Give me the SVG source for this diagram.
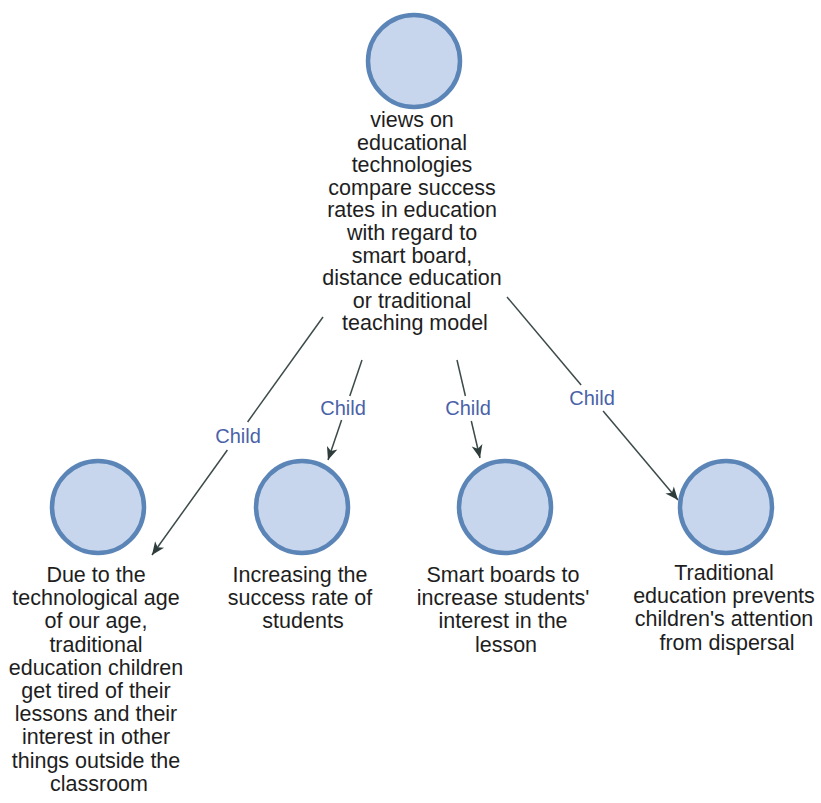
<svg xmlns="http://www.w3.org/2000/svg" width="821" height="803" viewBox="0 0 821 803">
  <defs>
    <style>
      .node circle { fill: #c7d6ec; stroke: #5b84b7; stroke-width: 4.5; }
      .node text { font-family: "Liberation Sans", Arial, sans-serif; font-size: 21.5px; fill: #1e1e1e; text-anchor: middle; }
      .edge { stroke: #3c4a4a; stroke-width: 1.5; fill: none; }
      .lbl { font-family: "Liberation Sans", Arial, sans-serif; font-size: 20px; fill: #4a62a8; text-anchor: middle; }
    </style>
    <marker id="arrow" markerUnits="userSpaceOnUse" markerWidth="16" markerHeight="14" viewBox="-14 -7 16 14" refX="0" refY="0" orient="auto">
      <path d="M0,0 L-13,-5.5 L-9.5,0 L-13,5.5 Z" fill="#2f3c3c"/>
    </marker>
  </defs>
  <rect width="821" height="803" fill="#ffffff"/>

  <!-- connectors -->
  <g id="connectors">
    <g id="e1">
      <line class="edge" x1="323" y1="317" x2="247.6" y2="422"/>
      <line class="edge" x1="227.4" y1="450" x2="152" y2="555" marker-end="url(#arrow)"/>
      <text class="lbl" x="238" y="443">Child</text>
    </g>
    <g id="e2">
      <line class="edge" x1="362" y1="360" x2="349.8" y2="396"/>
      <line class="edge" x1="341.6" y1="420" x2="328" y2="460" marker-end="url(#arrow)"/>
      <text class="lbl" x="343" y="415">Child</text>
    </g>
    <g id="e3">
      <line class="edge" x1="457" y1="360" x2="465.4" y2="396"/>
      <line class="edge" x1="471.3" y1="421" x2="480" y2="458" marker-end="url(#arrow)"/>
      <text class="lbl" x="468" y="415">Child</text>
    </g>
    <g id="e4">
      <line class="edge" x1="507" y1="297" x2="581.1" y2="385"/>
      <line class="edge" x1="603.1" y1="411" x2="678" y2="500" marker-end="url(#arrow)"/>
      <text class="lbl" x="592" y="405">Child</text>
    </g>
  </g>

  <!-- root node -->
  <g id="root" class="node">
    <circle cx="414" cy="61" r="46"/>
    <text x="415" y="127">
      <tspan x="415" dy="0">views on</tspan>
      <tspan x="415" dy="22.6">educational</tspan>
      <tspan x="415" dy="22.6">technologies</tspan>
      <tspan x="415" dy="22.6">compare success</tspan>
      <tspan x="415" dy="22.6">rates in education</tspan>
      <tspan x="415" dy="22.6">with regard to</tspan>
      <tspan x="415" dy="22.6">smart board,</tspan>
      <tspan x="415" dy="22.6">distance education</tspan>
      <tspan x="415" dy="22.6">or traditional</tspan>
      <tspan x="415" dy="22.6">teaching model</tspan>
    </text>
  </g>

  <!-- child nodes -->
  <g id="n1" class="node">
    <circle cx="98" cy="507" r="46"/>
    <text x="99" y="582">
      <tspan x="99" dy="0">Due to the</tspan>
      <tspan x="99" dy="23.2">technological age</tspan>
      <tspan x="99" dy="23.2">of our age,</tspan>
      <tspan x="99" dy="23.2">traditional</tspan>
      <tspan x="99" dy="23.2">education children</tspan>
      <tspan x="99" dy="23.2">get tired of their</tspan>
      <tspan x="99" dy="23.2">lessons and their</tspan>
      <tspan x="99" dy="23.2">interest in other</tspan>
      <tspan x="99" dy="23.2">things outside the</tspan>
      <tspan x="99" dy="23.2">classroom</tspan>
    </text>
  </g>

  <g id="n2" class="node">
    <circle cx="302" cy="507" r="46"/>
    <text x="303" y="582">
      <tspan x="303" dy="0">Increasing the</tspan>
      <tspan x="303" dy="23.2">success rate of</tspan>
      <tspan x="303" dy="23.2">students</tspan>
    </text>
  </g>

  <g id="n3" class="node">
    <circle cx="505" cy="507" r="46"/>
    <text x="506" y="582">
      <tspan x="506" dy="0">Smart boards to</tspan>
      <tspan x="506" dy="23.2">increase students'</tspan>
      <tspan x="506" dy="23.2">interest in the</tspan>
      <tspan x="506" dy="23.2">lesson</tspan>
    </text>
  </g>

  <g id="n4" class="node">
    <circle cx="726" cy="507" r="46"/>
    <text x="727" y="580">
      <tspan x="727" dy="0">Traditional</tspan>
      <tspan x="727" dy="23.2">education prevents</tspan>
      <tspan x="727" dy="23.2">children's attention</tspan>
      <tspan x="727" dy="23.2">from dispersal</tspan>
    </text>
  </g>
</svg>
